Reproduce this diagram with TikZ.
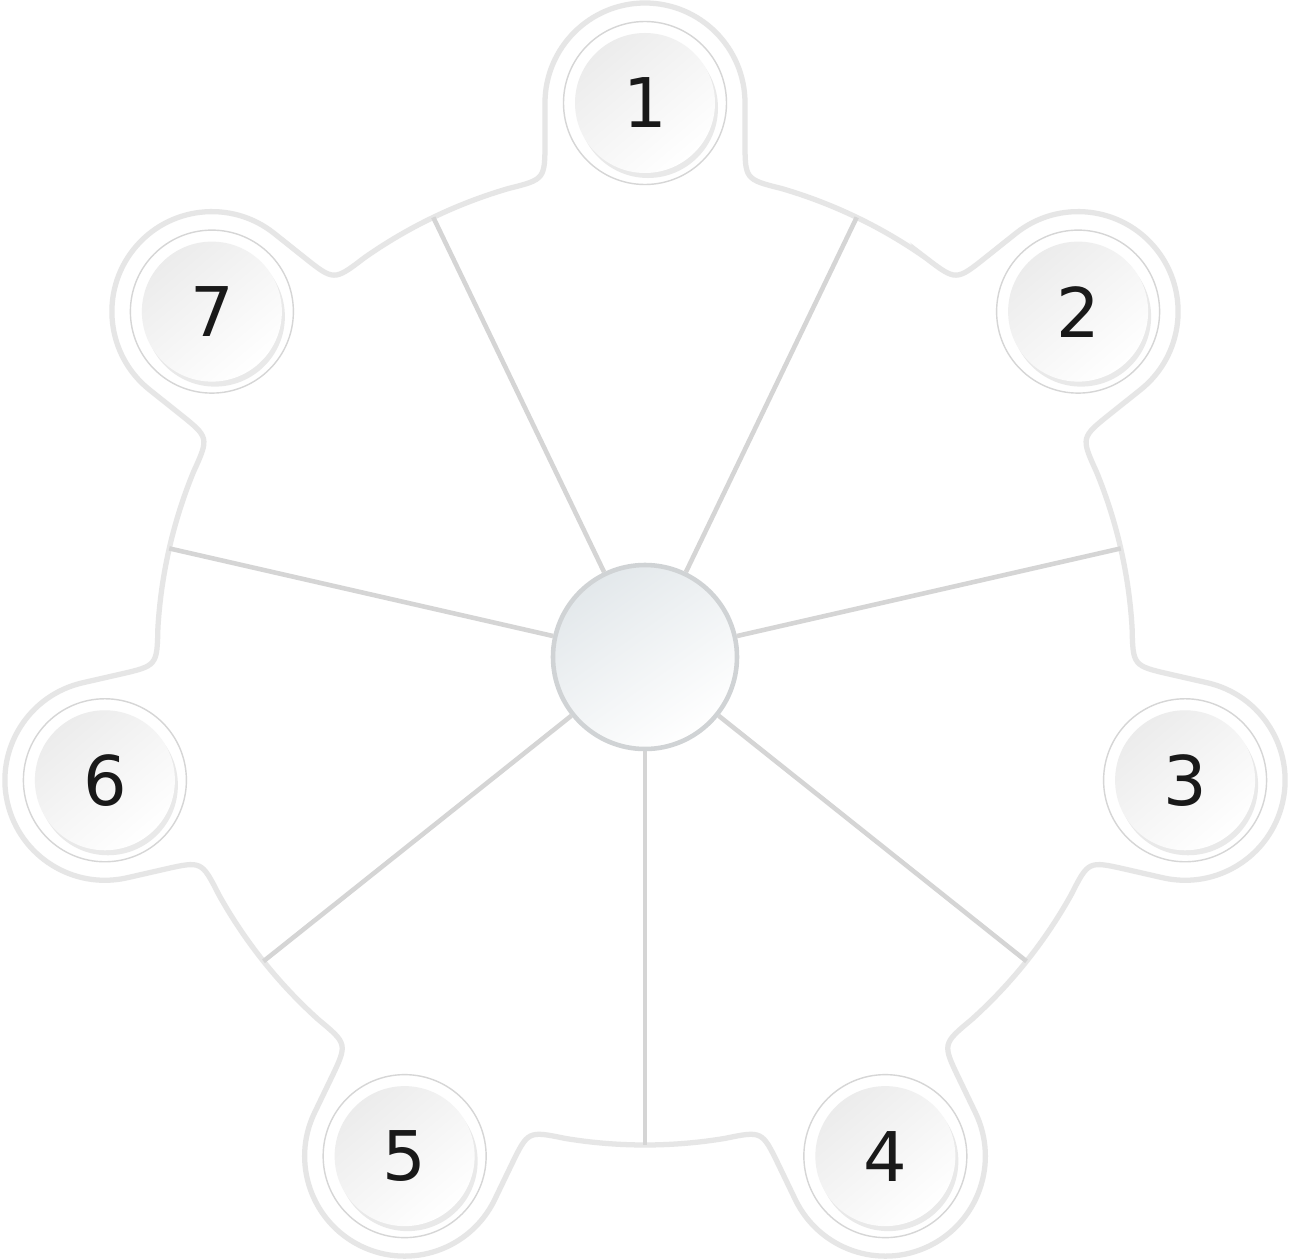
\documentclass[tikz,border=0pt]{standalone}
\usepackage{fontspec}
\setmainfont{DejaVu Sans}
\usetikzlibrary{calc,shadows}

\definecolor{rimgray}{HTML}{E6E6E6}
\definecolor{spokegray}{HTML}{D5D5D5}
\definecolor{hubedge}{HTML}{D0D3D5}
\definecolor{hubtop}{HTML}{E3E8EB}

\begin{document}
\begin{tikzpicture}[line width=0.8pt,
  rim/.style={draw=rimgray,line width=1.5pt},
  spoke/.style={draw=spokegray,line width=1.3pt},
  ringline/.style={draw=gray!32,line width=0.4pt},
  hubnode/.style={circle,minimum size=1.84cm,inner sep=0pt,draw=hubedge,
    line width=1.3pt,top color=hubtop,bottom color=white,shading angle=35},
  bubble/.style={circle,minimum size=1.40cm,inner sep=0pt,
    top color=gray!15,bottom color=white,shading angle=40,
    font=\fontsize{19.5}{23}\selectfont,text=black!90,
    drop shadow={shadow xshift=0.03cm,shadow yshift=-0.05cm,
      opacity=0.3,fill=gray!55}}]
\def\Rb{5.54}  % bubble distance
\def\Ra{4.88}  % rim radius
\def\rb{1.0}   % bump radius
\def\ac{11.83} % rim meets stem
\def\sf{5.16}  % end of fillet on stem
% page
\fill[white] (-6.45,-6.01) rectangle (6.46,6.57);
\useasboundingbox (-6.45,-6.01) rectangle (6.46,6.57);
% rim with the seven bumps
\draw[rim] (54.86:\Ra)
  \foreach \t in {90,141.4286,192.8571,244.2857,295.7143,347.1429,398.5714} {
    arc[start angle={\t-35.14},end angle={\t-16.29},radius=\Ra]
    .. controls ({\t-\ac}:\Ra) .. ($(\t:\sf)+({\t-90}:\rb)$)
    -- ($(\t:\Rb)+({\t-90}:\rb)$)
    arc[start angle={\t-90},end angle={\t+90},radius=\rb]
    -- ($(\t:\sf)+({\t+90}:\rb)$)
    .. controls ({\t+\ac}:\Ra) .. ({\t+16.29}:\Ra)
  } -- cycle;
% hub
\node[hubnode] (hub) at (0,0) {};
% spokes
\foreach \j in {0,...,6} {
  \coordinate (rim\j) at ({115.714-\j*51.4286}:\Ra);
  \draw[spoke] (hub) -- (rim\j);
}
% numbered bubbles
\foreach \n in {1,...,7} {
  \draw[ringline] ({90-(\n-1)*51.4286}:\Rb) circle (0.815);
  \node[bubble] (b\n) at ({90-(\n-1)*51.4286}:\Rb) {\n};
}
\end{tikzpicture}
\end{document}
